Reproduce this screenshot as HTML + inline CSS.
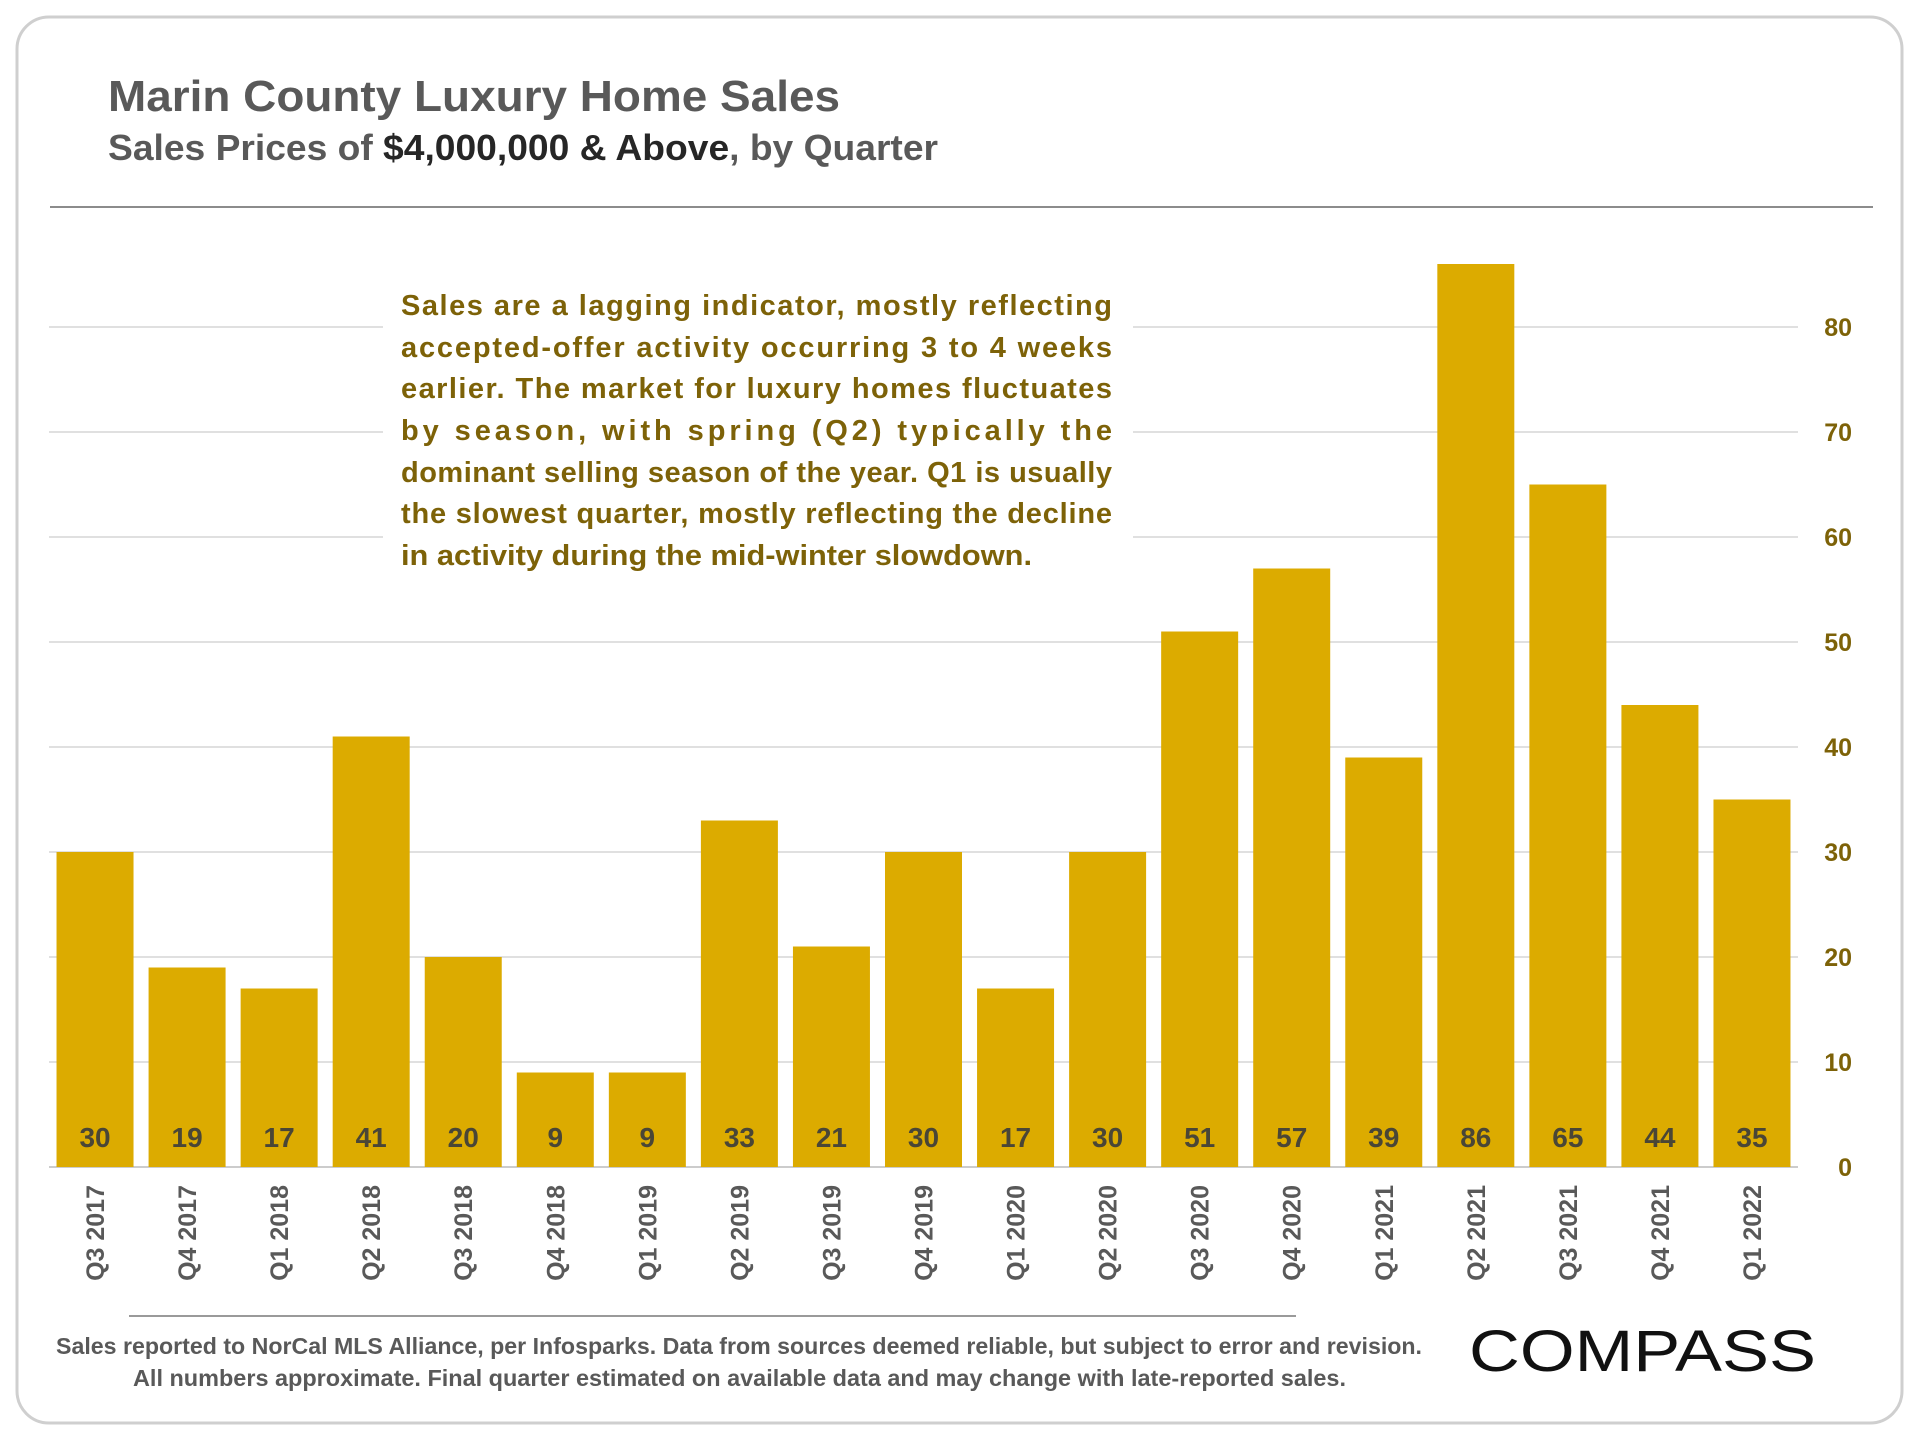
<!DOCTYPE html>
<html><head><meta charset="utf-8"><style>
html,body{margin:0;padding:0;background:#fff;}
svg{display:block;font-family:"Liberation Sans",sans-serif;}
</style></head><body>
<svg id="chart" width="1920" height="1440" viewBox="0 0 1920 1440">
<rect x="17" y="17" width="1885" height="1406" rx="32" fill="#fff" stroke="#cfcfcf" stroke-width="3"/>
<text x="108" y="111" font-size="44" font-weight="bold" fill="#595959" textLength="732" lengthAdjust="spacingAndGlyphs">Marin County Luxury Home Sales</text>
<text x="108" y="160" font-size="36" font-weight="bold" fill="#595959" textLength="830" lengthAdjust="spacingAndGlyphs">Sales Prices of <tspan fill="#262626">$4,000,000 &amp; Above</tspan>, by Quarter</text>
<line x1="50" y1="207" x2="1873" y2="207" stroke="#8c8c8c" stroke-width="2"/>
<g id="grid"></g>
<g id="bars"></g>
<g id="yticks"></g>
<g id="xlabels"></g>
<rect x="383" y="279" width="750" height="297" fill="#fff"/>
<g font-size="29" font-weight="bold" fill="#7d6208">
<text x="401" y="315" textLength="711" lengthAdjust="spacing">Sales are a lagging indicator, mostly reflecting</text>
<text x="401" y="357" textLength="711" lengthAdjust="spacing">accepted-offer activity occurring 3 to 4 weeks</text>
<text x="401" y="398" textLength="711" lengthAdjust="spacing">earlier. The market for luxury homes fluctuates</text>
<text x="401" y="440" textLength="711" lengthAdjust="spacing">by season, with spring (Q2) typically the</text>
<text x="401" y="482" textLength="711" lengthAdjust="spacing">dominant selling season of the year. Q1 is usually</text>
<text x="401" y="523" textLength="711" lengthAdjust="spacing">the slowest quarter, mostly reflecting the decline</text>
<text x="401" y="565" textLength="631" lengthAdjust="spacingAndGlyphs">in activity during the mid-winter slowdown.</text>
</g>
<line x1="129" y1="1316" x2="1296" y2="1316" stroke="#9a9a9a" stroke-width="2"/>
<text x="56" y="1354" font-size="23" font-weight="bold" fill="#595959" textLength="1366" lengthAdjust="spacingAndGlyphs">Sales reported to NorCal MLS Alliance, per Infosparks. Data from sources deemed reliable, but subject to error and revision.</text>
<text x="133" y="1386" font-size="23" font-weight="bold" fill="#595959" textLength="1213" lengthAdjust="spacingAndGlyphs">All numbers approximate. Final quarter estimated on available data and may change with late-reported sales.</text>
<text x="1469" y="1371" font-size="58" fill="#111" textLength="347" lengthAdjust="spacingAndGlyphs">COMPASS</text>
</svg>
<script>
const categories = ["Q3 2017","Q4 2017","Q1 2018","Q2 2018","Q3 2018","Q4 2018","Q1 2019","Q2 2019","Q3 2019","Q4 2019","Q1 2020","Q2 2020","Q3 2020","Q4 2020","Q1 2021","Q2 2021","Q3 2021","Q4 2021","Q1 2022"];
const salesValues = [30,19,17,41,20,9,9,33,21,30,17,30,51,57,39,86,65,44,35];
const yTicks = [0,10,20,30,40,50,60,70,80];

const NS = "http://www.w3.org/2000/svg";
const plotLeft = 49, plotRight = 1798, yZero = 1167, unitPx = 10.5;
const band = (plotRight - plotLeft) / categories.length;
const barW = 77;
function xBand(i){ return plotLeft + i * band; }
function yScale(v){ return yZero - v * unitPx; }
function mk(tag, attrs, parent){ const e = document.createElementNS(NS, tag); for (const k in attrs) e.setAttribute(k, attrs[k]); parent.appendChild(e); return e; }

const grid = document.getElementById('grid');
const yt = document.getElementById('yticks');
yTicks.forEach(t => {
  const l = mk('line', {x1: plotLeft, x2: plotRight, y1: yScale(t), y2: yScale(t), stroke: t === 0 ? '#cccccc' : '#e0e0e0', 'stroke-width': 2}, grid);
  
  
  const tx = mk('text', {x: 1852, y: yScale(t) + 9, 'text-anchor': 'end', 'font-size': 25, 'font-weight': 'bold', fill: '#7d6208'}, yt);
  tx.textContent = t;
  
  
});

const bars = document.getElementById('bars');
const xl = document.getElementById('xlabels');
categories.forEach((c, i) => {
  const v = salesValues[i];
  const x = xBand(i) + (band - barW) / 2;
  const cx = xBand(i) + band / 2;
  const r = mk('rect', {x: x, y: yScale(v), width: barW, height: yZero - yScale(v), fill: '#dcab00'}, bars);
  
  
  const vl = mk('text', {x: cx, y: 1147, 'text-anchor': 'middle', 'font-size': 28, 'font-weight': 'bold', fill: '#4a4636'}, bars);
  vl.textContent = v;
  
  
  const lb = mk('text', {x: 0, y: 0, 'text-anchor': 'end', 'font-size': 25, 'font-weight': 'bold', fill: '#595959', transform: 'translate(' + (cx + 9) + ',1185) rotate(-90)'}, xl);
  lb.textContent = c;
  
  
});
</script>
</body></html>
